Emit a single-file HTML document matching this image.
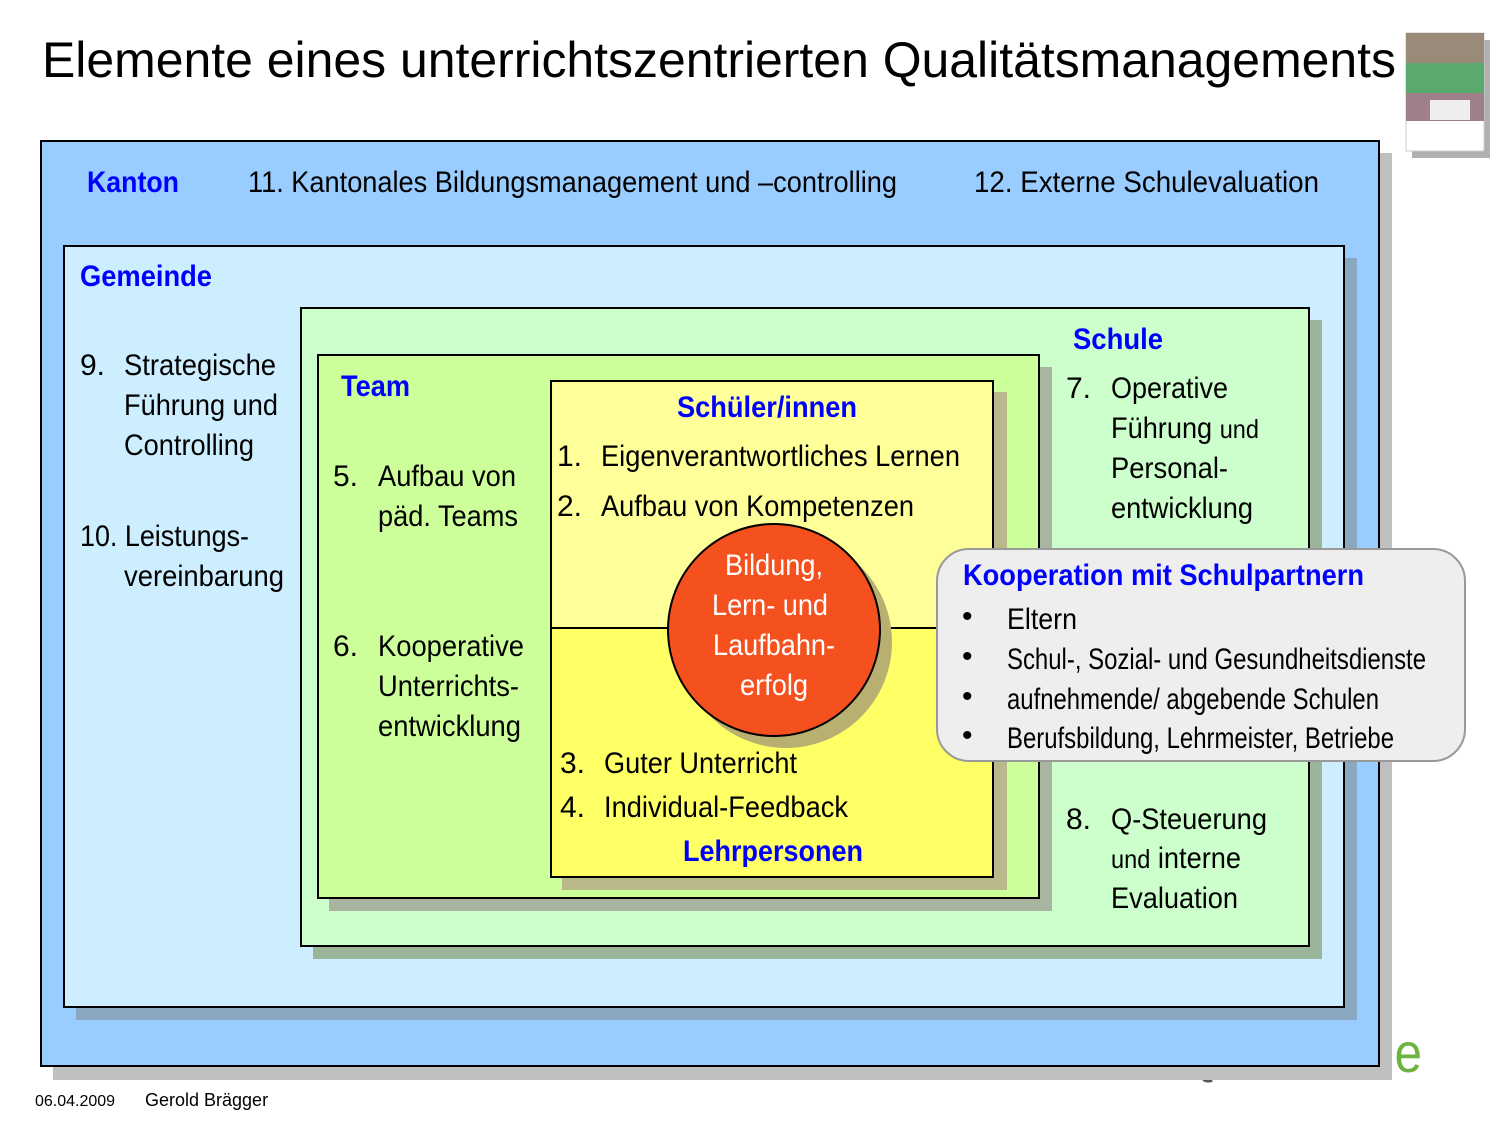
<!DOCTYPE html>
<html><head><meta charset="utf-8"><style>
body{margin:0;background:#fff}
svg{display:block}
text{font-family:"Liberation Sans Narrow","Liberation Sans",sans-serif;}
.b{fill:#0000ff;font-weight:bold;font-size:30px}
.t{fill:#000;font-size:30px}
.w{fill:#fff;font-size:30px}
</style></head><body>
<svg width="1500" height="1125" viewBox="0 0 1500 1125" xmlns="http://www.w3.org/2000/svg">
<rect width="1500" height="1125" fill="#fff"/>
<text x="42" y="77" font-size="50" style="font-family:'Liberation Sans',sans-serif" textLength="1354" lengthAdjust="spacingAndGlyphs">Elemente eines unterrichtszentrierten Qualitätsmanagements</text>
<!-- thumbnail -->
<rect x="1412" y="40" width="78" height="118" fill="#b0b0b0"/>
<rect x="1406" y="33" width="78" height="118" fill="#fff" stroke="#ccc"/>
<rect x="1406" y="33" width="78" height="30" fill="#9a8a7a"/>
<rect x="1406" y="63" width="78" height="30" fill="#5aaa6e"/>
<rect x="1406" y="93" width="78" height="28" fill="#a08088"/>
<rect x="1430" y="100" width="40" height="20" fill="#eeeeee"/>
<!-- logo -->
<text x="1168" y="1072" font-size="56" fill="#555" style="font-family:'Liberation Sans',sans-serif" textLength="115" lengthAdjust="spacingAndGlyphs">IQES</text>
<text x="1290" y="1072" font-size="56" fill="#6cb33f" style="font-family:'Liberation Sans',sans-serif" textLength="132" lengthAdjust="spacingAndGlyphs">online</text>
<!-- Kanton -->
<rect x="53" y="153" width="1339" height="927" fill="#c0c0c0"/>
<rect x="41" y="141" width="1338" height="925" fill="#99ccff" stroke="#000" stroke-width="2"/>
<text class="b" x="87" y="192" textLength="92" lengthAdjust="spacingAndGlyphs">Kanton</text>
<text class="t" x="248" y="192" textLength="649" lengthAdjust="spacingAndGlyphs">11. Kantonales Bildungsmanagement und –controlling</text>
<text class="t" x="974" y="192" textLength="345" lengthAdjust="spacingAndGlyphs">12.  Externe Schulevaluation</text>
<!-- Gemeinde -->
<rect x="76" y="258" width="1281" height="762" fill="#8aa8c0"/>
<rect x="64" y="246" width="1280" height="761" fill="#cdeeff" stroke="#000" stroke-width="2"/>
<text class="b" x="80" y="286" textLength="132" lengthAdjust="spacingAndGlyphs">Gemeinde</text>
<text class="t" x="80" y="375">9.</text>
<text class="t" x="124" y="375" textLength="152" lengthAdjust="spacingAndGlyphs">Strategische</text>
<text class="t" x="124" y="415" textLength="154" lengthAdjust="spacingAndGlyphs">Führung und</text>
<text class="t" x="124" y="455" textLength="130" lengthAdjust="spacingAndGlyphs">Controlling</text>
<text class="t" x="80" y="546" textLength="169" lengthAdjust="spacingAndGlyphs">10. Leistungs-</text>
<text class="t" x="124" y="586" textLength="160" lengthAdjust="spacingAndGlyphs">vereinbarung</text>
<!-- Schule -->
<rect x="313" y="320" width="1009" height="639" fill="#9ab59a"/>
<rect x="301" y="308" width="1008" height="638" fill="#ccffcc" stroke="#000" stroke-width="2"/>
<text class="b" x="1073" y="349" textLength="90" lengthAdjust="spacingAndGlyphs">Schule</text>
<text class="t" x="1066" y="398">7.</text>
<text class="t" x="1111" y="398" textLength="117" lengthAdjust="spacingAndGlyphs">Operative</text>
<text class="t" x="1111" y="438" textLength="148" lengthAdjust="spacingAndGlyphs">Führung <tspan font-size="26">und</tspan></text>
<text class="t" x="1111" y="478" textLength="117" lengthAdjust="spacingAndGlyphs">Personal-</text>
<text class="t" x="1111" y="518" textLength="142" lengthAdjust="spacingAndGlyphs">entwicklung</text>
<text class="t" x="1066" y="829">8.</text>
<text class="t" x="1111" y="829" textLength="156" lengthAdjust="spacingAndGlyphs">Q-Steuerung</text>
<text class="t" x="1111" y="868" textLength="130" lengthAdjust="spacingAndGlyphs"><tspan font-size="26">und</tspan> interne</text>
<text class="t" x="1111" y="908" textLength="127" lengthAdjust="spacingAndGlyphs">Evaluation</text>
<!-- Team -->
<rect x="329" y="367" width="723" height="544" fill="#a8b5a0"/>
<rect x="318" y="355" width="721" height="543" fill="#ccff99" stroke="#000" stroke-width="2"/>
<text class="b" x="341" y="396" textLength="69" lengthAdjust="spacingAndGlyphs">Team</text>
<text class="t" x="333" y="486">5.</text>
<text class="t" x="378" y="486" textLength="138" lengthAdjust="spacingAndGlyphs">Aufbau von</text>
<text class="t" x="378" y="526" textLength="140" lengthAdjust="spacingAndGlyphs">päd. Teams</text>
<text class="t" x="333" y="656">6.</text>
<text class="t" x="378" y="656" textLength="146" lengthAdjust="spacingAndGlyphs">Kooperative</text>
<text class="t" x="378" y="696" textLength="141" lengthAdjust="spacingAndGlyphs">Unterrichts-</text>
<text class="t" x="378" y="736" textLength="143" lengthAdjust="spacingAndGlyphs">entwicklung</text>
<!-- yellow -->
<rect x="562" y="392" width="445" height="498" fill="#b8b88a"/>
<rect x="551" y="381" width="442" height="247" fill="#ffff99" stroke="#000" stroke-width="2"/>
<rect x="551" y="628" width="442" height="249" fill="#ffff66" stroke="#000" stroke-width="2"/>
<text class="b" x="677" y="417" textLength="180" lengthAdjust="spacingAndGlyphs">Schüler/innen</text>
<text class="t" x="557" y="466">1.</text>
<text class="t" x="601" y="466" textLength="359" lengthAdjust="spacingAndGlyphs">Eigenverantwortliches Lernen</text>
<text class="t" x="557" y="516">2.</text>
<text class="t" x="601" y="516" textLength="313" lengthAdjust="spacingAndGlyphs">Aufbau von Kompetenzen</text>
<text class="t" x="560" y="773">3.</text>
<text class="t" x="604" y="773" textLength="193" lengthAdjust="spacingAndGlyphs">Guter Unterricht</text>
<text class="t" x="560" y="817">4.</text>
<text class="t" x="604" y="817" textLength="244" lengthAdjust="spacingAndGlyphs">Individual-Feedback</text>
<text class="b" x="683" y="861" textLength="180" lengthAdjust="spacingAndGlyphs">Lehrpersonen</text>
<line x1="993" y1="628" x2="940" y2="628" stroke="#000" stroke-width="2"/>
<!-- circle -->
<circle cx="786" cy="642" r="106" fill="#b8b070"/>
<circle cx="774" cy="630" r="106" fill="#f4511e" stroke="#000" stroke-width="2"/>
<text class="w" x="725" y="575" textLength="98" lengthAdjust="spacingAndGlyphs">Bildung,</text>
<text class="w" x="712" y="615" textLength="116" lengthAdjust="spacingAndGlyphs">Lern- und</text>
<text class="w" x="713" y="655" textLength="122" lengthAdjust="spacingAndGlyphs">Laufbahn-</text>
<text class="w" x="740" y="695" textLength="68" lengthAdjust="spacingAndGlyphs">erfolg</text>
<!-- Kooperation -->
<rect x="937" y="549" width="528" height="212" rx="32" ry="32" fill="#eeeeee" stroke="#999" stroke-width="2"/>
<text class="b" x="963" y="585" textLength="401" lengthAdjust="spacingAndGlyphs">Kooperation mit Schulpartnern</text>
<text class="t" x="962" y="626" font-size="26">•</text>
<text class="t" x="962" y="666" font-size="26">•</text>
<text class="t" x="962" y="706" font-size="26">•</text>
<text class="t" x="962" y="745" font-size="26">•</text>
<text class="t" x="1007" y="629" textLength="70" lengthAdjust="spacingAndGlyphs">Eltern</text>
<text class="t" x="1007" y="669" font-size="26" textLength="419" lengthAdjust="spacingAndGlyphs">Schul-, Sozial- und Gesundheitsdienste</text>
<text class="t" x="1007" y="709" font-size="26" textLength="372" lengthAdjust="spacingAndGlyphs">aufnehmende/ abgebende Schulen</text>
<text class="t" x="1007" y="748" font-size="26" textLength="387" lengthAdjust="spacingAndGlyphs">Berufsbildung, Lehrmeister, Betriebe</text>
<!-- footer -->
<text x="35" y="1106" font-size="16" style="font-family:'Liberation Sans',sans-serif">06.04.2009</text>
<text x="145" y="1106" font-size="18" style="font-family:'Liberation Sans',sans-serif">Gerold Brägger</text>
</svg>
</body></html>
